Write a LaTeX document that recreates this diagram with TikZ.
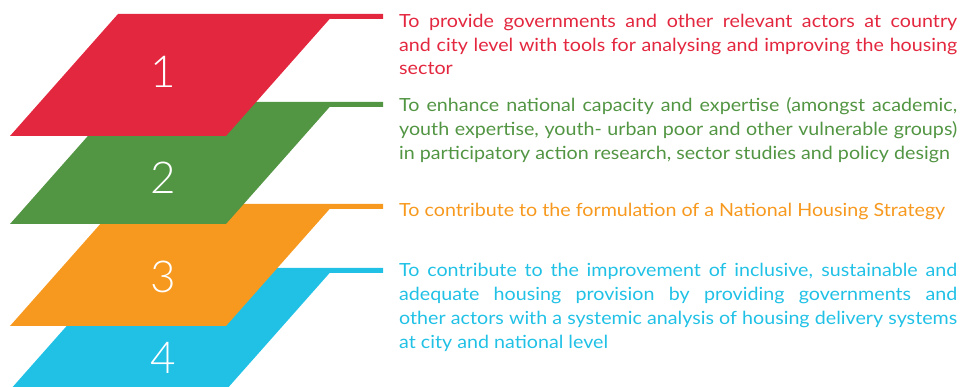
\documentclass[tikz,border=0pt]{standalone}
\usepackage{fontspec}
\setmainfont{Lato}
\newfontfamily\numfont{Lato Light}
\definecolor{cred}{HTML}{E3273F}
\definecolor{cgreen}{HTML}{529543}
\definecolor{corange}{HTML}{F7991F}
\definecolor{cblue}{HTML}{21C1E6}
\newlength\orw
\newcommand\jl[1]{\hbox to 558pt{#1}}
\newcommand\layer[2]{%
  \begin{scope}[shift={(0,#2)}]
    \fill[#1] (118,0) -- (383,0) -- (383,5) -- (329.6,5) -- (226,122) -- (10,122) -- cycle;
  \end{scope}}
\AtBeginDocument{%
  \settowidth\orw{\fontsize{10}{12}\selectfont To contribute to the formulation of a National Housing Strategy}%
  \pgfmathsetmacro\fst{546/(\orw*1.81)}%
  \edef\tmpdef{\noexpand\newfontfamily\noexpand\txtfont{Lato}[FakeStretch=\fst]}\tmpdef}
\begin{document}
\begin{tikzpicture}[x=1pt,y=-1pt,
  numstyle/.style={text=white,inner sep=0pt,font=\numfont\fontsize{44}{44}\selectfont},
  txtstyle/.style={anchor=base west,inner sep=0pt,font=\txtfont\fontsize{18.1}{23.8}\selectfont}]
\useasboundingbox (0,0) rectangle (962,387);
\clip (0,0) rectangle (962,387);
\layer{cblue}{268}
\layer{corange}{204}
\layer{cgreen}{102}
\layer{cred}{14}
\node[numstyle] (n1) at (163,72) {1};
\node[numstyle] (n2) at (163,178) {2};
\node[numstyle] (n3) at (163,277) {3};
\node[numstyle] (n4) at (163,358) {4};
\node[txtstyle,text=cred] (t1) at (399,27.3) {\vtop{%
\jl{To provide governments and other relevant actors at country}%
\jl{and city level with tools for analysing and improving the housing}%
\hbox{sector}}};
\node[txtstyle,text=cgreen] (t2) at (399,111.7) {\vtop{%
\jl{To enhance national capacity and expertise (amongst academic,}%
\jl{youth expertise, youth- urban poor and other vulnerable groups)}%
\hbox{in participatory action research, sector studies and policy design}}};
\node[txtstyle,text=corange] (t3) at (399,216.7) {%
To contribute to the formulation of a National Housing Strategy};
\node[txtstyle,text=cblue] (t4) at (399,276.7) {\vtop{%
\jl{To contribute to the improvement of inclusive, sustainable and}%
\jl{adequate housing provision by providing governments and}%
\jl{other actors with a systemic analysis of housing delivery systems}%
\hbox{at city and national level}}};
\end{tikzpicture}
\end{document}
